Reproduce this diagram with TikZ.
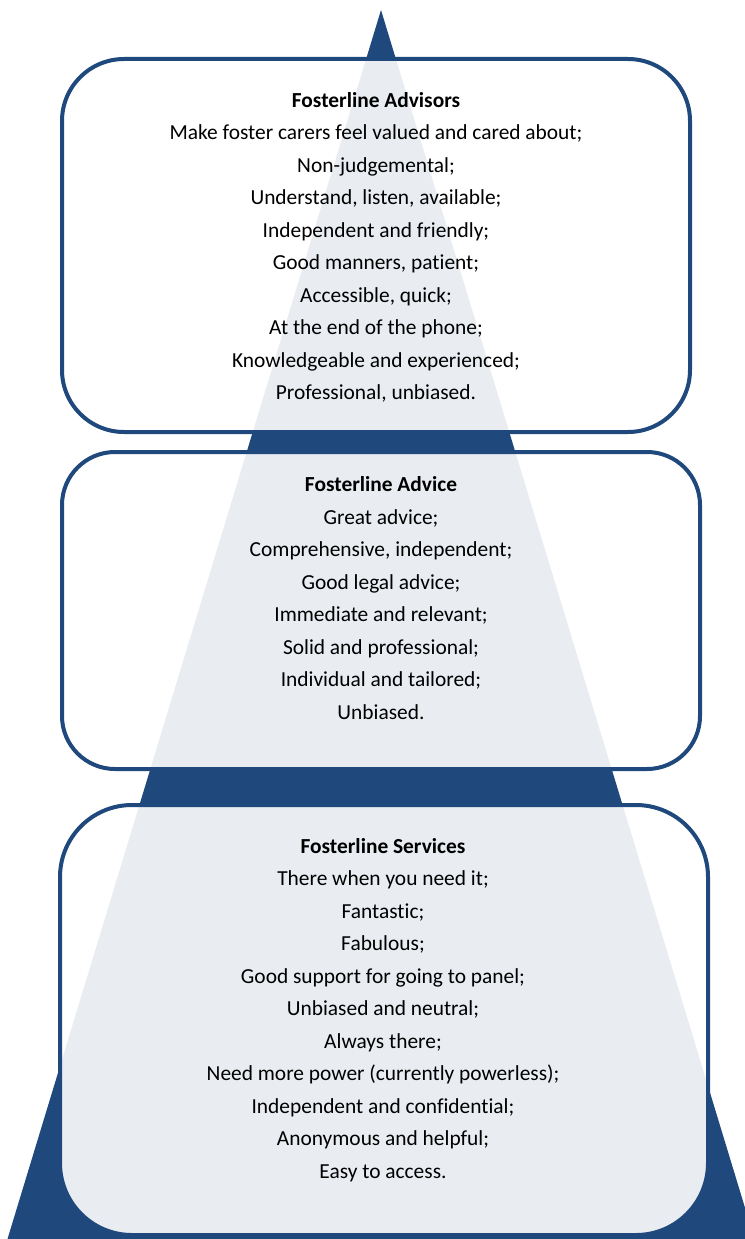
\documentclass[tikz,border=0pt]{standalone}
\usepackage{fontspec}
\setmainfont{Carlito}[Ligatures=CommonOff]
\definecolor{dblue}{RGB}{31,73,125}
\begin{document}
\begin{tikzpicture}[x=1pt,y=-1pt,
  panel/.style={draw=dblue, line width=4pt, fill=white, fill opacity=0.9, draw opacity=1},
  txt/.style={align=center, font=\fontsize{21.4}{32.5}\selectfont, text=black, inner sep=0pt,
    execute at begin node=\strut, execute at end node=\strut}]
\useasboundingbox (0,0) rectangle (744,1239);
\fill[dblue] (381,10) -- (754.5,1239) -- (7.5,1239) -- cycle;
\draw[panel, rounded corners=62] (62,59) rectangle (690,432);
\draw[panel, rounded corners=53] (62,452) rectangle (700,769);
\draw[panel, rounded corners=72] (60,805) rectangle (708,1235);
\node[txt] (advisors) at (376,251) {\textbf{Fosterline Advisors}\\
Make foster carers feel valued and cared about;\\
Non-judgemental;\\
Understand, listen, available;\\
Independent and friendly;\\
Good manners, patient;\\
Accessible, quick;\\
At the end of the phone;\\
Knowledgeable and experienced;\\
Professional, unbiased.};
\node[txt] (advice) at (381,603) {\textbf{Fosterline Advice}\\
Great advice;\\
Comprehensive, independent;\\
Good legal advice;\\
Immediate and relevant;\\
Solid and professional;\\
Individual and tailored;\\
Unbiased.};
\node[txt] (services) at (383,1013) {\textbf{Fosterline Services}\\
There when you need it;\\
Fantastic;\\
Fabulous;\\
Good support for going to panel;\\
Unbiased and neutral;\\
Always there;\\
Need more power (currently powerless);\\
Independent and confidential;\\
Anonymous and helpful;\\
Easy to access.};
\end{tikzpicture}
\end{document}
